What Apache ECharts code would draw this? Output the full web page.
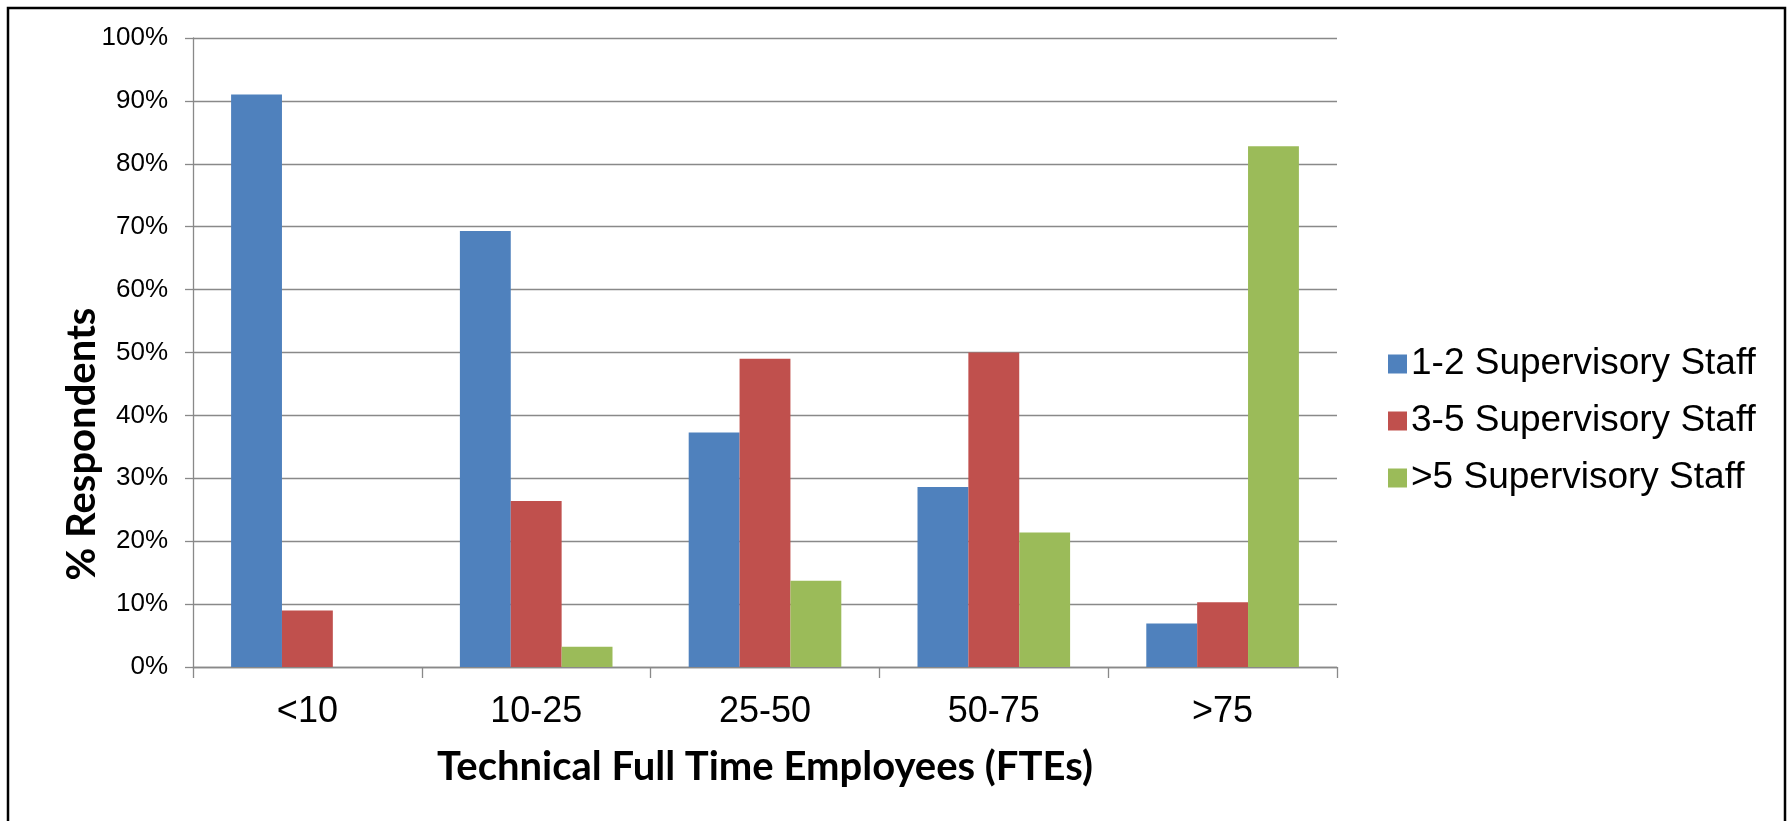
<!DOCTYPE html>
<html>
<head>
<meta charset="utf-8">
<script src="https://cdn.jsdelivr.net/npm/echarts@6/dist/echarts.min.js"></script>
<style>
html,body{margin:0;padding:0;background:#fff;}
#chart{width:1789px;height:821px;}
</style>
</head>
<body>
<div id="chart"></div>
<script>
const categories = ['<10', '10-25', '25-50', '50-75', '>75'];
const seriesNames = ['1-2 Supervisory Staff', '3-5 Supervisory Staff', '>5 Supervisory Staff'];
const staff12 = [91.0, 69.3, 37.3, 28.6, 6.9];
const staff35 = [9.0, 26.4, 49.0, 50.0, 10.3];
const staff5plus = [0, 3.2, 13.7, 21.4, 82.8];
const yTitle = '% Respondents';
const xTitle = 'Technical Full Time Employees (FTEs)';

const colors = ['#4F81BD', '#C0504D', '#9BBB59'];
const gridGray = '#898989';

const chart = echarts.init(document.getElementById('chart'), null, {renderer: 'canvas'});
const barBase = {type: 'bar', barGap: '0%', barCategoryGap: '33.3%'};
chart.setOption({
  animation: false,
  color: colors,
  textStyle: {fontFamily: 'Liberation Sans, Arial, sans-serif', color: '#000'},
  grid: {left: 193, right: 452, top: 38, bottom: 154, containLabel: false},
  legend: {
    orient: 'vertical',
    left: 1383,
    top: 339,
    icon: 'rect',
    itemWidth: 19,
    itemHeight: 19,
    itemGap: 17,
    data: seriesNames,
    textStyle: {fontSize: 37, lineHeight: 40, color: '#000', fontFamily: 'Liberation Sans, Arial, sans-serif', padding: [0, 0, 0, -1]}
  },
  xAxis: {
    type: 'category',
    data: categories,
    axisLine: {lineStyle: {color: gridGray, width: 1.3}},
    axisTick: {show: true, length: 11, lineStyle: {color: gridGray, width: 1.3}},
    axisLabel: {fontSize: 36, color: '#000', margin: 27, fontFamily: 'Liberation Sans, Arial, sans-serif'}
  },
  yAxis: {
    type: 'value',
    min: 0,
    max: 100,
    interval: 10,
    axisLine: {show: true, lineStyle: {color: gridGray, width: 1.3}},
    axisTick: {show: true, length: 8, lineStyle: {color: gridGray, width: 1.3}},
    splitLine: {lineStyle: {color: gridGray, width: 1.3}},
    axisLabel: {fontSize: 26, color: '#000', margin: 25, formatter: '{value}%', fontFamily: 'Liberation Sans, Arial, sans-serif'}
  },
  series: [
    Object.assign({name: seriesNames[0], data: staff12}, barBase),
    Object.assign({name: seriesNames[1], data: staff35}, barBase),
    Object.assign({name: seriesNames[2], data: staff5plus}, barBase)
  ],
  graphic: [
    {
      type: 'polyline',
      shape: {points: [[8, 821], [8, 8], [1785, 8], [1785, 821]]},
      style: {stroke: '#000', lineWidth: 2.5, fill: null},
      silent: true
    },
    {
      type: 'text',
      x: 82, y: 444,
      rotation: Math.PI / 2,
      style: {text: yTitle, font: 'bold 40px Lato, "Open Sans", sans-serif', fill: '#000', textAlign: 'center', textVerticalAlign: 'middle'},
      silent: true
    },
    {
      type: 'text',
      x: 765, y: 767,
      style: {text: xTitle, font: 'bold 40px Lato, "Open Sans", sans-serif', fill: '#000', textAlign: 'center', textVerticalAlign: 'middle'},
      silent: true
    }
  ]
});
</script>
</body>
</html>
